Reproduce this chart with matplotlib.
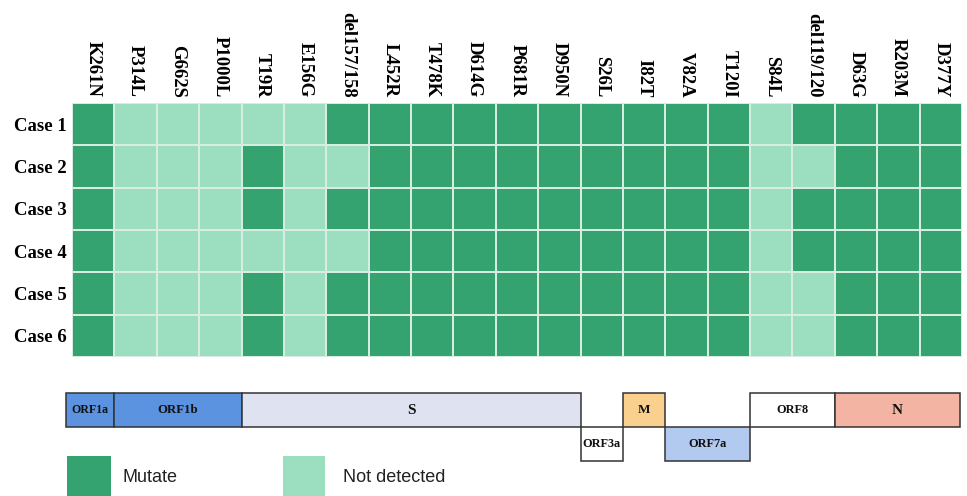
import matplotlib
matplotlib.use("Agg")
import matplotlib.pyplot as plt
from matplotlib.patches import Rectangle
from matplotlib.colors import ListedColormap
import numpy as np

# Mutation labels (columns) and cases (rows)
mutations = ["K261N", "P314L", "G662S", "P1000L", "T19R", "E156G", "del157/158",
             "L452R", "T478K", "D614G", "P681R", "D950N", "S26L", "I82T", "V82A",
             "T120I", "S84L", "del119/120", "D63G", "R203M", "D377Y"]
cases = ["Case 1", "Case 2", "Case 3", "Case 4", "Case 5", "Case 6"]

# 1 = mutated, 0 = not detected
case1 = [1, 0, 0, 0, 0, 0, 1, 1, 1, 1, 1, 1, 1, 1, 1, 1, 0, 1, 1, 1, 1]
case2 = [1, 0, 0, 0, 1, 0, 0, 1, 1, 1, 1, 1, 1, 1, 1, 1, 0, 0, 1, 1, 1]
case3 = [1, 0, 0, 0, 1, 0, 1, 1, 1, 1, 1, 1, 1, 1, 1, 1, 0, 1, 1, 1, 1]
case4 = [1, 0, 0, 0, 0, 0, 0, 1, 1, 1, 1, 1, 1, 1, 1, 1, 0, 1, 1, 1, 1]
case5 = [1, 0, 0, 0, 1, 0, 1, 1, 1, 1, 1, 1, 1, 1, 1, 1, 0, 0, 1, 1, 1]
case6 = [1, 0, 0, 0, 1, 0, 1, 1, 1, 1, 1, 1, 1, 1, 1, 1, 0, 0, 1, 1, 1]

# Genome regions: name, first column, last column (exclusive), band (1 = top, 0 = bottom)
gene_names = ["ORF1a", "ORF1b", "S", "ORF3a", "M", "ORF7a", "ORF8", "N"]
gene_start = [-0.14, 1, 4, 12, 13, 14, 16, 18]
gene_end = [1, 4, 12, 13, 14, 16, 18, 20.95]
gene_band = [1, 1, 1, 0, 1, 0, 1, 1]
gene_colors = ["#5b93e0", "#5b93e0", "#dfe3f1", "#ffffff", "#f9d08e", "#b2c9f0",
               "#ffffff", "#f4b4a4"]
gene_fontsize = [8.6, 9.3, 11, 8.8, 9.5, 8.8, 8.8, 11]

DARK = "#35a370"
LIGHT = "#9cdec0"
GRID = "#d8ece2"

W, H = 967, 496
fig = plt.figure(figsize=(W / 100, H / 100), dpi=100)

def box(x0, y0, x1, y1):
    return [x0 / W, 1 - y1 / H, (x1 - x0) / W, (y1 - y0) / H]

serif = "Liberation Serif"

# Heatmap
ax = fig.add_axes(box(72, 103, 962, 357))
data = np.array([case1, case2, case3, case4, case5, case6])
ax.pcolormesh(np.arange(len(mutations) + 1), np.arange(len(cases) + 1), data,
              cmap=ListedColormap([LIGHT, DARK]), vmin=0, vmax=1,
              edgecolors=GRID, linewidth=1.2)
ax.set_xlim(0, len(mutations))
ax.set_ylim(len(cases), 0)
ax.set_xticks(np.arange(len(mutations)) + 0.5)
ax.set_xticklabels(mutations, rotation=270, fontfamily=serif, fontweight="bold",
                   fontsize=13.5, va="bottom", ha="center")
ax.xaxis.tick_top()
ax.set_yticks(np.arange(len(cases)) + 0.5)
ax.set_yticklabels(cases, fontfamily=serif, fontweight="bold", fontsize=13.5)
ax.tick_params(length=0, pad=4)
for s in ax.spines.values():
    s.set_visible(False)

# Genome map
gx = fig.add_axes(box(72, 393, 962, 461))
gx.set_xlim(0, len(mutations))
gx.set_ylim(0, 2)
gx.axis("off")
for name, x0, x1, band, col, fs in zip(gene_names, gene_start, gene_end, gene_band,
                                       gene_colors, gene_fontsize):
    gx.add_patch(Rectangle((x0, band), x1 - x0, 1, facecolor=col,
                           edgecolor="#333333", linewidth=1.1, clip_on=False))
    gx.text((x0 + x1) / 2, band + 0.5, name, ha="center", va="center",
            fontfamily=serif, fontweight="bold", fontsize=fs, color="#111111")

# Legend
fig.patches.append(Rectangle((67 / W, 1 - 500 / H), 44 / W, 44 / H,
                             transform=fig.transFigure, facecolor=DARK,
                             edgecolor="none"))
fig.patches.append(Rectangle((283 / W, 1 - 500 / H), 42 / W, 44 / H,
                             transform=fig.transFigure, facecolor=LIGHT,
                             edgecolor="none"))
fig.text(123 / W, 1 - 477 / H, "Mutate", fontfamily="Liberation Sans",
         fontsize=13, va="center", ha="left", color="#222222")
fig.text(343 / W, 1 - 477 / H, "Not detected", fontfamily="Liberation Sans",
         fontsize=13, va="center", ha="left", color="#222222")

fig.savefig("out.png", dpi=100)
